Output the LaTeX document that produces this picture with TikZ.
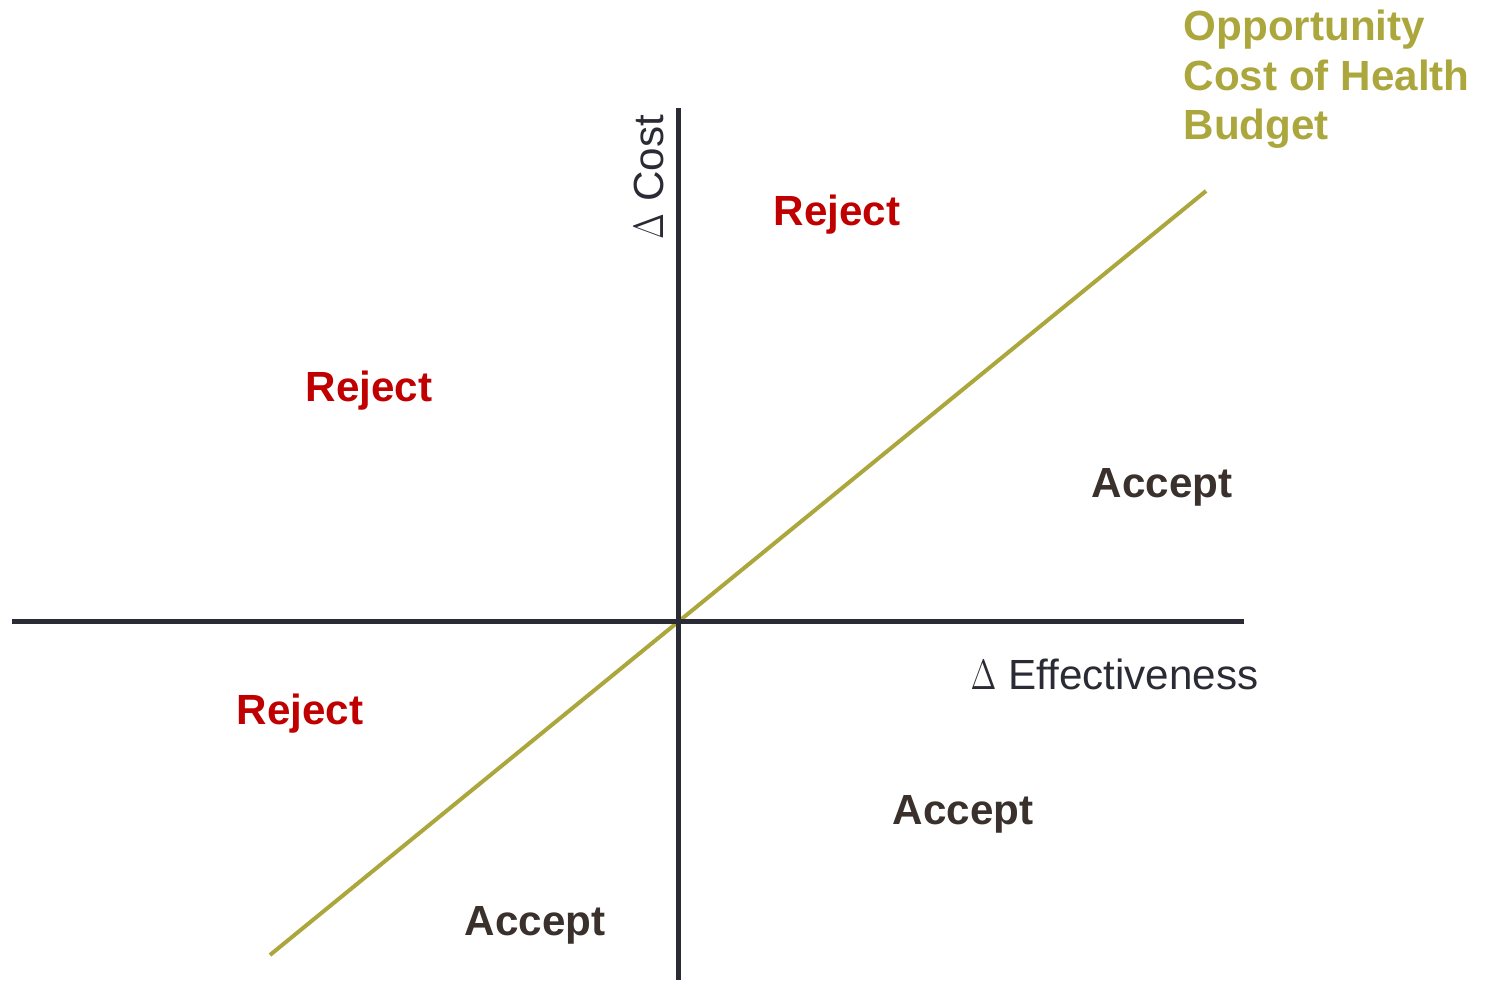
\documentclass[tikz,border=0pt]{standalone}
\usepackage{fontspec}
\setmainfont{Liberation Sans}
\usepackage{tikz}

\definecolor{axisgray}{HTML}{2B2B35}
\definecolor{olive}{HTML}{ACA73D}
\definecolor{rejectred}{HTML}{C00000}
\definecolor{acceptbrown}{HTML}{3A302C}

\newcommand\dlt{\scalebox{0.75}[1]{$\Delta$}}

\tikzset{
  axis/.style = {draw=axisgray, line width=0.5mm},
  budget/.style = {draw=olive, line width=0.4mm},
  reject/.style = {anchor=base west, inner sep=0pt, text=rejectred, font=\fontsize{12}{14}\selectfont\bfseries},
  accept/.style = {anchor=base west, inner sep=0pt, text=acceptbrown, font=\fontsize{12}{14}\selectfont\bfseries},
  axislabel/.style = {anchor=base west, inner sep=0pt, text=axisgray, font=\fontsize{12}{14}\selectfont}
}

\begin{document}
\begin{tikzpicture}
\useasboundingbox (0,0) rectangle (14.87,9.82);

% ends of the axes and of the threshold line
\coordinate (o) at (6.78,3.60);
\coordinate (xl) at (0.12,3.60);
\coordinate (xr) at (12.44,3.60);
\coordinate (yt) at (6.78,8.74);
\coordinate (yb) at (6.78,0.02);
\coordinate (bl) at (2.70,0.27);
\coordinate (br) at (12.06,7.91);

\draw [budget] (bl) -- (br);
\draw [axis] (xl) -- (xr);
\draw [axis] (yb) -- (yt);

% axis labels
\node[axislabel, rotate=90] (ycost) at (6.63,7.42) {\dlt{} Cost};
\node[axislabel] (xeff) at (9.70,2.92) {\dlt{} Effectiveness};

% threshold label (anchored on the last line)
\node[anchor=base west, inner sep=0pt, text=olive, align=left,
      font=\fontsize{12}{14.2}\selectfont\bfseries] (occ) at (11.83,8.42)
  {Opportunity\\Cost of Health\\Budget};

% decision regions
\node[reject] (r1) at (7.73,7.56) {Reject};
\node[reject] (r2) at (3.05,5.80) {Reject};
\node[reject] (r3) at (2.36,2.57) {Reject};
\node[accept] (a1) at (10.91,4.84) {Accept};
\node[accept] (a2) at (8.92,1.57) {Accept};
\node[accept] (a3) at (4.64,0.46) {Accept};
\end{tikzpicture}
\end{document}
